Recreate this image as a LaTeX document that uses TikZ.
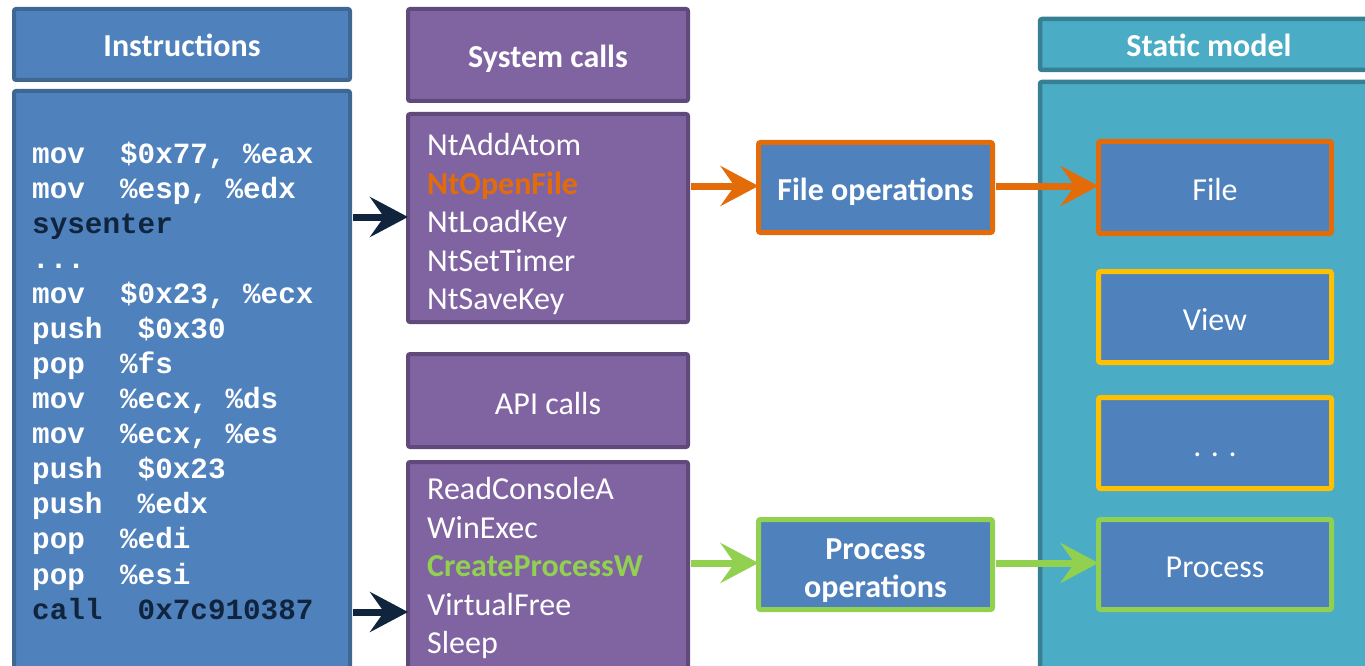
\documentclass[tikz,border=0pt]{standalone}
\usepackage{fontspec}
\setmainfont{Carlito}
\newfontfamily\codefont{Liberation Mono}
\usetikzlibrary{arrows.meta}

\definecolor{insFill}{HTML}{4F81BD}
\definecolor{insLine}{HTML}{3F6794}
\definecolor{sysFill}{HTML}{8064A2}
\definecolor{sysLine}{HTML}{5F4A7B}
\definecolor{statFill}{HTML}{4BACC6}
\definecolor{statLine}{HTML}{377F93}
\definecolor{hlOrange}{HTML}{E36C09}
\definecolor{hlYellow}{HTML}{FFC000}
\definecolor{hlGreen}{HTML}{92D050}
\definecolor{navy}{HTML}{10243E}

\tikzset{
  box/.style={draw, line width=4pt, rounded corners=2pt, inner sep=0pt, outer sep=0pt, text=white},
  ins/.style={box, fill=insFill, draw=insLine},
  sys/.style={box, fill=sysFill, draw=sysLine},
  stat/.style={box, fill=statFill, draw=statLine, line width=4.5pt},
  model/.style={box, fill=insFill, line width=5pt},
  head/.style={font=\fontsize{32}{38}\selectfont\bfseries, text height=25pt, text depth=0pt},
  label/.style={font=\fontsize{32}{38}\selectfont, text height=26pt, text depth=0pt},
  code/.style={anchor=base west, inner sep=0pt, text=white, font=\codefont\bfseries\fontsize{29.3}{35}\selectfont},
  codehl/.style={code, text=navy},
  item/.style={anchor=base west, inner sep=0pt, text=white, font=\fontsize{32}{38}\selectfont},
  flow/.style={line width=7pt, -{Stealth[length=38pt, width=40pt, inset=14pt]}, shorten <=3pt},
}

\begin{document}
\begin{tikzpicture}[x=1pt, y=-1pt]
\useasboundingbox (0,0) rectangle (1365,666);
\clip (0,0) rectangle (1365,666);

% Instructions column
\node[ins, head, minimum width=336, minimum height=71] (hIns) at (182,44.5) {Instructions};
\node[ins, minimum width=336, minimum height=589] (bIns) at (182,385.5) {};
\node[code]   (code1)  at (32,163.0) {mov~~\$0x77, \%eax};
\node[code]   (code2)  at (32,198.1) {mov~~\%esp, \%edx};
\node[codehl] (code3)  at (32,233.2) {sysenter};
\node[code]   (code4)  at (32,268.2) {...};
\node[code]   (code5)  at (32,303.3) {mov~~\$0x23, \%ecx};
\node[code]   (code6)  at (32,338.4) {push~~\$0x30};
\node[code]   (code7)  at (32,373.5) {pop~~\%fs};
\node[code]   (code8)  at (32,408.6) {mov~~\%ecx, \%ds};
\node[code]   (code9)  at (32,443.6) {mov~~\%ecx, \%es};
\node[code]   (code10) at (32,478.7) {push~~\$0x23};
\node[code]   (code11) at (32,513.8) {push~~\%edx};
\node[code]   (code12) at (32,548.9) {pop~~\%edi};
\node[code]   (code13) at (32,584.0) {pop~~\%esi};
\node[codehl] (code14) at (32,619.0) {call~~0x7c910387};

% System calls and API calls
\node[sys, head, minimum width=280, minimum height=92] (hSys) at (548,55) {System calls};
\node[sys, minimum width=280, minimum height=208] (bSys) at (548,218) {};
\node[sys, label, text height=28pt, minimum width=280, minimum height=93] (hApi) at (548,400.5) {API calls};
\node[sys, minimum width=280, minimum height=218] (bApi) at (548,571) {};
\node[item] (sc1) at (427,155.5) {NtAddAtom};
\node[item, text=hlOrange, font=\fontsize{32}{38}\selectfont\bfseries] (sc2) at (427,194.0) {NtOpenFile};
\node[item] (sc3) at (427,232.5) {NtLoadKey};
\node[item] (sc4) at (427,271.0) {NtSetTimer};
\node[item] (sc5) at (427,309.5) {NtSaveKey};
\node[item] (api1) at (427,499.5) {ReadConsoleA};
\node[item] (api2) at (427,538.0) {WinExec};
\node[item, text=hlGreen, font=\fontsize{32}{38}\selectfont\bfseries] (api3) at (427,576.5) {CreateProcessW};
\node[item] (api4) at (427,615.0) {VirtualFree};
\node[item] (api5) at (427,653.5) {Sleep};

% Operation classes
\node[model, draw=hlOrange, head, minimum width=234, minimum height=90] (fileOp) at (875.5,187.5) {File operations};
\node[model, draw=hlGreen, minimum width=234, minimum height=90] (procOp) at (875.5,564.5) {};
\node[align=center, inner sep=0pt, text=white, font=\fontsize{32}{38}\selectfont\bfseries] (procOpText) at ([yshift=-6pt]procOp.center) {Process\\operations};

% Static model
\node[stat, head, minimum width=338, minimum height=51] (hStat) at (1209,44.5) {Static model};
\node[stat, minimum width=338, minimum height=596] (bStat) at (1209,380) {};
\node[model, draw=hlOrange, label, minimum width=233, minimum height=92] (mFile) at (1215,187.5) {File};
\node[model, draw=hlYellow, label, minimum width=233, minimum height=91] (mView) at (1215,317) {View};
\node[model, draw=hlYellow, label, minimum width=233, minimum height=91] (mDots) at (1215,443) {. . .};
\node[model, draw=hlGreen, label, minimum width=233, minimum height=90] (mProc) at (1215,564.5) {Process};

% Connectors
\coordinate (yEnter) at (0,217);
\coordinate (yCall) at (0,612);
\coordinate (yFile) at (0,186);
\coordinate (yProc) at (0,563);
\draw[flow, navy] (bIns.east |- yEnter) -- (bSys.west |- yEnter);
\draw[flow, navy] (bIns.east |- yCall) -- (bApi.west |- yCall);
\draw[flow, hlOrange] (bSys.east |- yFile) -- (fileOp.west |- yFile);
\draw[flow, hlOrange] (fileOp.east |- yFile) -- (mFile.west |- yFile);
\draw[flow, hlGreen] (bApi.east |- yProc) -- (procOp.west |- yProc);
\draw[flow, hlGreen] (procOp.east |- yProc) -- (mProc.west |- yProc);
\end{tikzpicture}
\end{document}
